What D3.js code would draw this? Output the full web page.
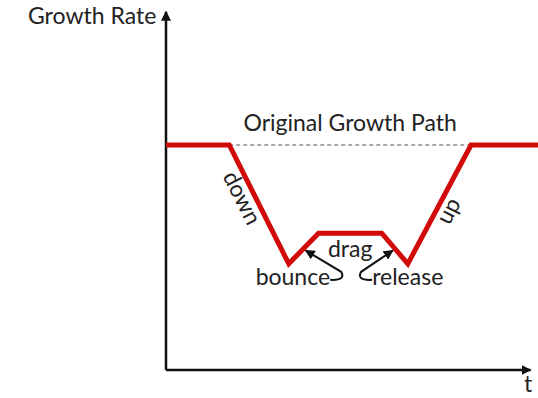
<!DOCTYPE html>
<html>
<head>
<meta charset="utf-8">
<script src="https://cdn.jsdelivr.net/npm/d3@7"></script>
<style>
  body { margin: 0; background: #fff; }
  text { font-family: Lato, "Open Sans", sans-serif; fill: #222; }
</style>
</head>
<body>
<svg id="chart-area"></svg>
<script>
// path of growth rate over time (t, rate)
const tValues = [0, 1.7, 3.3, 4.1, 5.8, 6.5, 8.2, 10]
const rateValues = [6.25, 6.25, 2.95, 3.8, 3.8, 2.95, 6.25, 6.25]
const baseRate = 6.25
const phaseLabels = ["down", "up", "drag", "bounce", "release"]

const svgWidth = 538
const svgHeight = 398
const fontSize = 23

const svg = d3.select("#chart-area")
    .attr("width", svgWidth)
    .attr("height", svgHeight)

const xScale = d3.scaleLinear().domain([0, 10]).range([166, 538])
const yScale = d3.scaleLinear().domain([0, 10]).range([370, 10])

const defs = svg.append("defs")
defs.append("marker")
    .attr("id", "head")
    .attr("viewBox", "0 0 10 10")
    .attr("refX", 9).attr("refY", 5)
    .attr("markerWidth", 10).attr("markerHeight", 10)
    .attr("markerUnits", "userSpaceOnUse")
    .attr("orient", "auto")
  .append("path")
    .attr("d", "M0,0 L10,5 L0,10 z")
    .attr("fill", "#111")

// axes
svg.append("line")
    .attr("x1", xScale(0)).attr("y1", yScale(0))
    .attr("x2", xScale(0)).attr("y2", yScale(9.95))
    .attr("stroke", "#111").attr("stroke-width", 2.5)
    .attr("marker-end", "url(#head)")
svg.append("line")
    .attr("x1", xScale(0)).attr("y1", yScale(0))
    .attr("x2", xScale(9.8)).attr("y2", yScale(0))
    .attr("stroke", "#111").attr("stroke-width", 2.5)
    .attr("marker-end", "url(#head)")

svg.append("text")
    .attr("x", 28).attr("y", 24)
    .attr("font-size", fontSize)
    .text("Growth Rate")
svg.append("text")
    .attr("x", 524).attr("y", 392)
    .attr("font-size", fontSize)
    .text("t")

// original path (dashed)
svg.append("line")
    .attr("x1", xScale(tValues[1])).attr("y1", yScale(baseRate))
    .attr("x2", xScale(tValues[6])).attr("y2", yScale(baseRate))
    .attr("stroke", "#555").attr("stroke-width", 1)
    .attr("stroke-dasharray", "4,3")
svg.append("text")
    .attr("x", (xScale(tValues[1]) + xScale(tValues[6])) / 2)
    .attr("y", yScale(baseRate) - 14)
    .attr("text-anchor", "middle")
    .attr("font-size", fontSize)
    .text("Original Growth Path")

// growth path
const points = tValues.map((t, i) => [t, rateValues[i]])
const line = d3.line()
    .x(d => xScale(d[0]))
    .y(d => yScale(d[1]))
svg.append("path")
    .attr("d", line(points))
    .attr("fill", "none")
    .attr("stroke", "#d10a0a")
    .attr("stroke-width", 5)
    .attr("stroke-linejoin", "miter")

// slope labels
const downX = (xScale(tValues[1]) + xScale(tValues[2])) / 2 - 24
const downY = (yScale(rateValues[1]) + yScale(rateValues[2])) / 2 - 3
svg.append("text")
    .attr("transform", `translate(${downX},${downY}) rotate(63)`)
    .attr("text-anchor", "middle")
    .attr("font-size", fontSize)
    .text(phaseLabels[0])
const upX = (xScale(tValues[5]) + xScale(tValues[6])) / 2 + 16
const upY = (yScale(rateValues[5]) + yScale(rateValues[6])) / 2 + 10
svg.append("text")
    .attr("transform", `translate(${upX},${upY}) rotate(-63)`)
    .attr("text-anchor", "middle")
    .attr("font-size", fontSize)
    .text(phaseLabels[1])

const midX = (xScale(tValues[3]) + xScale(tValues[4])) / 2
svg.append("text")
    .attr("x", midX).attr("y", yScale(rateValues[3]) + 24)
    .attr("text-anchor", "middle")
    .attr("font-size", fontSize)
    .text(phaseLabels[2])

const lowY = yScale(rateValues[2])
svg.append("text")
    .attr("x", midX - 20).attr("y", lowY + 21)
    .attr("text-anchor", "end")
    .attr("font-size", fontSize)
    .text(phaseLabels[3])
svg.append("text")
    .attr("x", midX + 22).attr("y", lowY + 21)
    .attr("text-anchor", "start")
    .attr("font-size", fontSize)
    .text(phaseLabels[4])

// pointer arrows
const bx = xScale((tValues[2] + tValues[3]) / 2)
const by = yScale((rateValues[2] + rateValues[3]) / 2)
svg.append("path")
    .attr("d", `M${midX - 20},${lowY + 16} Q${midX - 4},${lowY + 17} ${midX - 9},${lowY + 8} L${bx + 2},${by + 2}`)
    .attr("fill", "none").attr("stroke", "#111").attr("stroke-width", 2)
    .attr("marker-end", "url(#head)")
const rx = xScale((tValues[4] + tValues[5]) / 2)
svg.append("path")
    .attr("d", `M${midX + 22},${lowY + 16} Q${midX + 6},${lowY + 17} ${midX + 11},${lowY + 8} L${rx - 2},${by + 2}`)
    .attr("fill", "none").attr("stroke", "#111").attr("stroke-width", 2)
    .attr("marker-end", "url(#head)")
</script>
</body>
</html>
